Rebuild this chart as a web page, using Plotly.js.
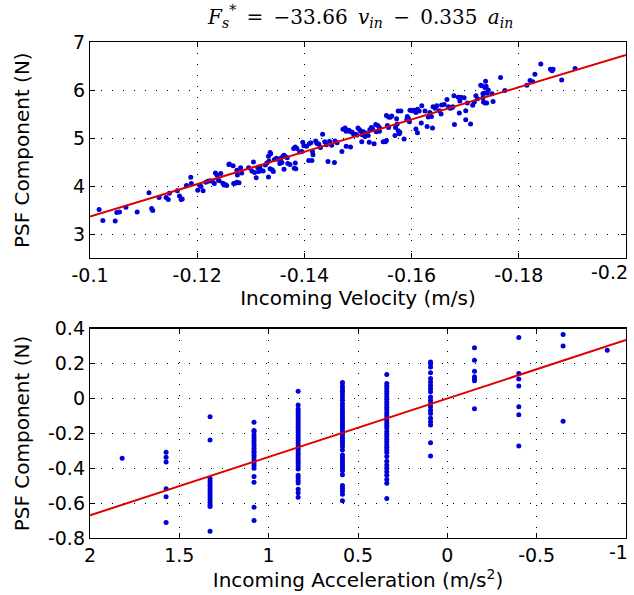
<!DOCTYPE html>
<html>
<head>
<meta charset="utf-8">
<script src="https://cdn.plot.ly/plotly-3.0.1.min.js"></script>
<style>html,body{margin:0;padding:0;background:#fff;}#chart{width:634px;height:595px;}</style>
</head>
<body>
<div id="chart"></div>
<script>
// ---- Top panel: incoming velocity vs PSF component ----
const velX = [-0.1017,-0.1024,-0.1047,-0.105,-0.1055,-0.1067,-0.1088,-0.111,-0.1115,-0.1117,-0.1129,-0.1142,-0.1146,-0.1148,-0.1163,-0.1167,-0.1170,-0.1172,-0.118,-0.1188,-0.1189,-0.1201,-0.1205,-0.1207,-0.1211,-0.1216,-0.1220,-0.1224,-0.1228,-0.1232,-0.1234,-0.1237,-0.1244,-0.1239,-0.1241,-0.1248,-0.1250,-0.1252,-0.1259,
-0.1255,-0.126,-0.1267,-0.1268,-0.1271,-0.1274,-0.1278,-0.1274,-0.1275,-0.1281,-0.1283,-0.1296,-0.1305,-0.1302,-0.1307,-0.1310,-0.1313,-0.1317,-0.1315,-0.1319,-0.1323,-0.1327,-0.1330,-0.1334,-0.1333,-0.1336,-0.1337,-0.1333,-0.1336,-0.1340,-0.1342,-0.1344,-0.1348,-0.1352,-0.1356,-0.1360,-0.1354,-0.1358,-0.1362,-0.1365,-0.1368,-0.1362,-0.1369,-0.1373,-0.1380,-0.1383,-0.1386,-0.1381,-0.1384,-0.1383,-0.1391,-0.1395,-0.1397,-0.1399,-0.1404,-0.1408,-0.1414,-0.1409,-0.1412,-0.1415,-0.1416,-0.1421,-0.1423,-0.1425,-0.1427,-0.1430,-0.1434,-0.1438,-0.1441,-0.1444,-0.1447,-0.1451,-0.1456,-0.1457,-0.1461,-0.1470,-0.1472,-0.1476,-0.1478,-0.1483,-0.1486,-0.1478,-0.1489,-0.1492,-0.1495,-0.1498,
-0.1486,-0.1500,-0.1503,-0.1505,-0.1508,-0.1510,-0.1513,-0.1515,-0.1507,-0.1519,-0.1522,-0.1525,-0.1527,-0.1521,-0.1530,-0.1533,-0.1537,-0.1540,-0.1534,-0.1540,-0.1547,-0.1551,-0.1553,-0.1553,-0.1557,-0.1560,-0.1563,-0.1555,-0.1557,-0.1570,-0.1572,-0.1573,-0.1569,-0.1575,-0.1580,-0.1575,-0.1577,-0.1578,-0.1586,-0.1591,-0.1594,-0.1597,-0.1601,-0.1592,-0.1596,-0.1604,-0.1608,-0.1611,-0.1614,-0.1619,-0.1608,-0.1611,-0.1618,-0.1625,-0.1631,-0.1634,-0.1629,-0.1639,-0.1637,-0.1640,-0.1644,-0.1647,-0.1652,-0.1655,-0.1656,-0.1661,-0.1666,-0.1669,-0.1672,-0.1675,-0.1677,-0.1679,-0.1680,-0.1687,-0.1690,-0.1692,-0.1698,-0.1689,-0.1701,-0.1701,-0.1704,-0.1710,-0.1714,-0.1717,-0.1720,-0.1723,-0.1729,-0.1733,-0.1739,-0.1740,-0.1743,
-0.1731,-0.1733,-0.1734,-0.1736,-0.1737,-0.1738,-0.1737,-0.1741,-0.1752,-0.1750,-0.1766,-0.1774,-0.1815,-0.1821,-0.1826,-0.1830,-0.1841,-0.1859,-0.1862,-0.1864,-0.1880,-0.1905];
const velPSF = [3.51,3.28,3.27,3.45,3.46,3.56,3.46,3.86,3.53,3.49,3.76,3.76,3.72,3.85,3.90,3.79,3.72,3.73,4.01,4.18,4.05,3.91,4.01,3.99,3.90,4.08,4.10,4.11,4.10,4.05,4.27,4.23,4.26,4.13,4.11,4.06,4.02,4.03,4.45,
4.01,4.46,4.42,4.05,4.06,4.08,4.07,4.33,4.23,4.38,4.27,4.38,4.50,4.31,4.28,4.17,4.38,4.40,4.30,4.33,4.31,4.44,4.48,4.52,4.62,4.70,4.67,4.19,4.36,4.34,4.30,4.55,4.58,4.55,4.58,4.62,4.47,4.49,4.64,4.61,4.59,4.35,4.47,4.45,4.78,4.81,4.78,4.37,4.36,4.48,4.71,4.72,4.91,4.84,4.83,4.53,4.53,4.88,4.90,4.72,4.65,4.94,4.89,4.88,4.87,4.80,5.08,4.92,4.86,4.51,4.93,4.85,4.49,4.94,4.90,4.72,5.18,5.21,5.14,5.16,5.13,4.83,5.12,5.07,5.08,5.06,
4.81,5.21,5.17,5.14,5.07,5.13,5.03,5.10,4.92,5.05,5.17,5.22,5.20,4.91,4.88,5.28,5.26,5.22,5.13,5.14,4.92,4.92,4.95,5.47,5.44,5.43,5.46,5.26,5.22,5.22,5.40,5.29,5.05,5.56,5.56,5.15,5.09,5.12,4.98,5.38,5.41,5.58,5.57,5.45,5.34,5.58,5.53,5.60,5.56,5.67,5.19,5.11,5.31,5.56,5.44,5.53,5.24,5.21,5.45,5.65,5.62,5.67,5.57,5.50,5.69,5.70,5.80,5.65,5.62,5.63,5.65,5.88,5.28,5.85,5.77,5.85,5.84,5.52,5.57,5.38,5.73,5.29,5.68,5.75,5.88,5.82,6.10,5.84,6.08,5.73,6.00,
6.09,5.92,5.75,5.94,6.05,6.18,5.73,5.93,5.76,5.92,6.26,5.99,6.10,6.20,6.17,6.33,6.54,6.43,6.40,6.43,6.21,6.45];

// ---- Bottom panel: incoming acceleration columns vs PSF component ----
const accLevels = [1.82, 1.574, 1.328, 1.082, 0.835, 0.587, 0.339, 0.094, -0.152, -0.40, -0.648, -0.895];
const accPSF = [
  [-0.343],
  [-0.309,-0.337,-0.364,-0.518,-0.564,-0.711],
  [-0.105,-0.238,-0.457,-0.475,-0.49,-0.505,-0.52,-0.535,-0.55,-0.565,-0.58,-0.595,-0.61,-0.62,-0.762],
  [-0.137,-0.183,-0.19,-0.21,-0.225,-0.24,-0.255,-0.27,-0.285,-0.30,-0.31,-0.325,-0.34,-0.355,-0.37,-0.385,-0.40,-0.448,-0.48,-0.623,-0.70],
  [0.042,-0.038,-0.06,-0.075,-0.09,-0.105,-0.12,-0.135,-0.15,-0.165,-0.18,-0.195,-0.21,-0.225,-0.24,-0.255,-0.27,-0.285,-0.30,-0.315,-0.33,-0.345,-0.36,-0.375,-0.39,-0.405,-0.44,-0.455,-0.47,-0.485,-0.52,-0.54,-0.566],
  [0.091,0.072,0.055,0.042,0.025,0.009,-0.01,-0.03,-0.048,-0.065,-0.08,-0.095,-0.11,-0.125,-0.14,-0.155,-0.17,-0.185,-0.20,-0.215,-0.23,-0.245,-0.26,-0.275,-0.295,-0.324,-0.34,-0.355,-0.37,-0.385,-0.40,-0.415,-0.438,-0.499,-0.515,-0.53,-0.549,-0.587],
  [0.137,0.086,0.07,0.055,0.04,0.025,0.01,-0.005,-0.02,-0.035,-0.05,-0.065,-0.08,-0.095,-0.11,-0.125,-0.14,-0.155,-0.17,-0.19,-0.205,-0.22,-0.235,-0.25,-0.265,-0.28,-0.295,-0.31,-0.333,-0.36,-0.381,-0.40,-0.42,-0.44,-0.465,-0.486,-0.574],
  [0.209,0.199,0.18,0.148,0.114,0.095,0.076,0.057,0.038,0.009,-0.01,-0.029,-0.048,-0.067,-0.086,-0.114,-0.133,-0.152,-0.254,-0.33],
  [0.291,0.219,0.156,0.124,0.110,0.101,-0.059],
  [0.349,0.143,0.112,0.072,-0.048,-0.094,-0.273],
  [0.366,0.301,-0.130],
  [0.276]
];

// fit coefficients from the title equation
const coefVel = -33.66;
const coefAcc = -0.335;
const velFitRange = [-0.1, -0.2];
const accFitRange = [2, -1];

// tick labels (the last label of each x axis is drawn right-aligned at the plot edge, as in the original)
const velTicks = [-0.1,-0.12,-0.14,-0.16,-0.18,-0.2];
const velTickText = ['-0.1','-0.12','-0.14','-0.16','-0.18','-0.2'];
const topYTicks = [3,4,5,6,7];
const accTicks = [2,1.5,1,0.5,0,-0.5,-1];
const accTickText = ['2','1.5','1','0.5','0','-0.5','-1'];
const botYTicks = [-0.8,-0.6,-0.4,-0.2,0,0.2,0.4];
const botYTickText = ['-0.8','-0.6','-0.4','-0.2','0','0.2','0.4'];

const accX = [], accY = [];
accLevels.forEach((a, i) => accPSF[i].forEach(v => { accX.push(a); accY.push(v); }));

const BLUE = '#0000d8', RED = '#dd0000';
const FONT = 'DejaVu Sans, Liberation Sans, Arial, sans-serif';
const tickFont = {family: FONT, size: 19, color: '#000'};
const titleFont = {family: FONT, size: 20, color: '#000'};
const EPS = 1e-6;
const TOP_DOM = [0.5645, 1], BOT_DOM = [0, 0.422];

const traces = [
  {x: velX, y: velPSF, type: 'scatter', mode: 'markers', marker: {color: BLUE, size: 5}, xaxis: 'x', yaxis: 'y', hoverinfo: 'skip'},
  {x: velFitRange, y: velFitRange.map(v => coefVel * v), type: 'scatter', mode: 'lines', line: {color: RED, width: 2}, xaxis: 'x', yaxis: 'y'},
  {x: accX, y: accY, type: 'scatter', mode: 'markers', marker: {color: BLUE, size: 5}, xaxis: 'x2', yaxis: 'y2', hoverinfo: 'skip'},
  {x: accFitRange, y: accFitRange.map(a => coefAcc * a), type: 'scatter', mode: 'lines', line: {color: RED, width: 2}, xaxis: 'x2', yaxis: 'y2'}
];

function ax(extra) {
  return Object.assign({
    showline: true, linecolor: '#000', linewidth: 1.2, mirror: 'ticks',
    ticks: 'inside', ticklen: 5, tickwidth: 1, tickcolor: '#000',
    showgrid: true, gridcolor: '#000', griddash: '1px,10px', gridwidth: 1,
    zeroline: false, tickfont: tickFont, tickmode: 'array', fixedrange: true
  }, extra);
}

// all but the last label go on the axis; the last is an edge-aligned annotation
const velText = velTickText.map((t, i) => i === velTickText.length - 1 ? '' : t);
const accText = accTickText.map((t, i) => i === accTickText.length - 1 ? '' : t);

function edgeLabel(text, yDom) {
  return {text: text, font: tickFont, showarrow: false, xref: 'paper', x: 1, xanchor: 'right', xshift: 4,
          yref: 'paper', y: yDom, yanchor: 'top', yshift: -1};
}

const layout = {
  width: 634, height: 595,
  margin: {l: 90, r: 8, t: 42, b: 57},
  paper_bgcolor: '#fff', plot_bgcolor: '#fff',
  showlegend: false,
  title: {
    text: '<i>F</i><sub><i>s</i></sub><sup>*</sup>\u2009 = \u2009\u221233.66\u2009 <i>v</i><sub><i>in</i></sub> \u2009\u2212\u2009 0.335\u2009 <i>a</i><sub><i>in</i></sub>',
    font: {family: 'DejaVu Serif, Liberation Serif, serif', size: 20, color: '#000'},
    xref: 'paper', x: 0.505, xanchor: 'center',
    yref: 'container', y: 0.972, yanchor: 'middle'
  },
  xaxis: ax({domain: [0, 1], anchor: 'y', range: [-0.1 + EPS, -0.2 - EPS], tickvals: velTicks, ticktext: velText,
    title: {text: 'Incoming Velocity (m/s)', font: titleFont, standoff: 2}}),
  yaxis: ax({domain: TOP_DOM, anchor: 'x', range: [2.5, 7 + EPS], tickvals: topYTicks, ticktext: topYTicks.map(String)}),
  xaxis2: ax({domain: [0, 1], anchor: 'y2', range: [2 + EPS, -1 - EPS], tickvals: accTicks, ticktext: accText,
    title: {text: 'Incoming Acceleration (m/s<sup>2</sup>)', font: titleFont, standoff: 2}}),
  yaxis2: ax({domain: BOT_DOM, anchor: 'x2', range: [-0.8 - EPS, 0.4 + EPS], tickvals: botYTicks, ticktext: botYTickText}),
  annotations: [
    {text: 'PSF Component (N)', textangle: -90, font: titleFont, showarrow: false,
     xref: 'paper', x: 0, xshift: -68, xanchor: 'center', yref: 'paper', y: (TOP_DOM[0] + TOP_DOM[1]) / 2, yanchor: 'middle'},
    {text: 'PSF Component (N)', textangle: -90, font: titleFont, showarrow: false,
     xref: 'paper', x: 0, xshift: -68, xanchor: 'center', yref: 'paper', y: (BOT_DOM[0] + BOT_DOM[1]) / 2, yanchor: 'middle'},
    edgeLabel(velTickText[velTickText.length - 1], TOP_DOM[0]),
    edgeLabel(accTickText[accTickText.length - 1], BOT_DOM[0])
  ]
};

Plotly.newPlot('chart', traces, layout, {staticPlot: true, displayModeBar: false});
</script>
</body>
</html>
